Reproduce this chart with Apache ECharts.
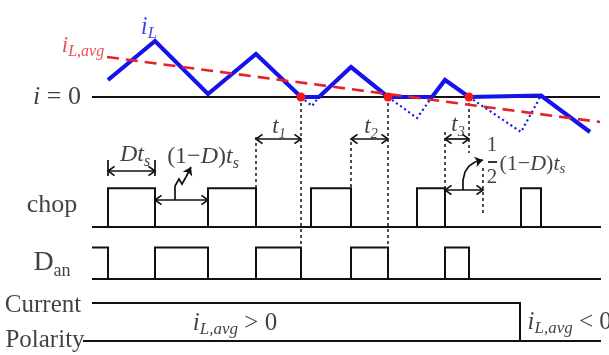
<!DOCTYPE html>
<html><head><meta charset="utf-8">
<script src="https://cdn.jsdelivr.net/npm/echarts@6/dist/echarts.min.js"></script>
<style>html,body{margin:0;padding:0;background:#fff}#c{width:609px;height:355px}</style>
</head><body><div id="c"></div>
<script>
// ---------- data (time in units, current relative to i = 0) ----------
const iL_t = [1.6, 6.3, 11.6, 16.4, 20.9, 22.7, 25.9, 29.6, 34.0, 35.3, 37.7, 44.9, 49.8];
const iL_i = [1.7, 5.6, 0.3, 4.3, 0, 0, 3.0, 0, 0, 1.7, 0, 0.15, -3.5];
const ccm_t = [[20.9, 22.0, 22.7], [29.6, 32.5, 34.0], [37.7, 42.9, 44.9]];
const ccm_i = [[0, -0.9, 0], [0, -2.1, 0], [0, -3.5, 0.15]];
const avg_t = [1.5, 50.8];
const avg_i = [4.0, -2.5];
const zeroCross_t = [20.9, 29.6, 37.7];
const chopOn = [[1.6, 6.3], [11.6, 16.4], [21.9, 25.9], [32.5, 35.3], [42.9, 44.9]];
const danOn = [[6.3, 11.6], [16.4, 20.9], [25.9, 29.6], [35.3, 37.7]];
const danFirstFall_t = 1.6;
const polaritySwitch_t = 42.8;
const tStart = 0, tEnd = 50.9;
const intervalMarks = { Dts: [1.6, 6.3], oneMinusD: [6.3, 11.6], t1: [16.4, 20.9], t2: [25.9, 29.6], t3: [35.3, 37.7], half: [35.3, 39.1] };

// ---------- layout levels ----------
const L = { i0: 25.8, chop: 12.8, chopH: 3.87, dan: 7.6, danH: 3.15, polHi: 5.2, polLo: 1.4 };
const SERIF = '"Liberation Serif","Times New Roman",serif';
const BLUE = '#1414ea', RED = '#e8202a', BLK = '#111';

// ---------- build geometry ----------
const waves = [];
waves.push([[tStart, L.i0], [avg_t[1], L.i0]]);
waves.push([[tStart, L.chop], [tEnd, L.chop]]);
chopOn.forEach(([a, b]) => waves.push([[a, L.chop], [a, L.chop + L.chopH], [b, L.chop + L.chopH], [b, L.chop]]));
waves.push([[tStart, L.dan], [tEnd, L.dan]]);
waves.push([[tStart, L.dan + L.danH], [danFirstFall_t, L.dan + L.danH], [danFirstFall_t, L.dan]]);
danOn.forEach(([a, b]) => waves.push([[a, L.dan], [a, L.dan + L.danH], [b, L.dan + L.danH], [b, L.dan]]));
waves.push([[tStart, L.polHi], [polaritySwitch_t, L.polHi], [polaritySwitch_t, L.polLo]]);
waves.push([[tStart - 0.9, L.polLo], [tEnd, L.polLo]]);

function chevron(p, q) {
  const dx = q[0] - p[0], dy = q[1] - p[1], n = Math.hypot(dx, dy);
  const ux = dx / n, uy = dy / n, len = 0.8, a = 0.62;
  const arm = s => {
    const c = Math.cos(a), sn = Math.sin(a) * s;
    const rx = ux * c - uy * sn, ry = ux * sn + uy * c;
    return [q[0] - len * rx, q[1] - len * ry];
  };
  return [arm(1), q, arm(-1)];
}
const annot = [];
function dblArrow([a, b], v) {
  const p = [a, v], q = [b, v];
  annot.push([p, q], chevron(p, q), chevron(q, p));
}
dblArrow(intervalMarks.Dts, 18.4);
dblArrow(intervalMarks.oneMinusD, 15.5);
dblArrow(intervalMarks.t1, 21.6);
dblArrow(intervalMarks.t2, 21.6);
dblArrow(intervalMarks.t3, 21.6);
dblArrow(intervalMarks.half, 16.5);
intervalMarks.Dts.forEach(t => annot.push([[t, 17.9], [t, 19.5]]));
annot.push([[39.6, 19.3], [40.5, 19.3]]);
const squiggle = [[8.3, 15.5], [8.3, 16.9], [8.7, 17.6], [9.0, 17.1], [9.4, 17.8]];
const curve = [[37.1, 16.5], [37.1, 17.5], [37.3, 18.3], [37.7, 18.9], [38.3, 19.3]];
annot.push(squiggle, curve);
const arrowHeads = [
  { coords: [squiggle[squiggle.length - 1], [9.9, 18.8]] },
  { coords: [curve[curve.length - 1], [39.1, 19.5]] }
];

const guides = [];
zeroCross_t.slice(0, 2).forEach(t => guides.push([[t, L.i0], [t, L.dan + L.danH]]));
guides.push([[zeroCross_t[2], L.i0], [zeroCross_t[2], 20.2]]);
guides.push([[intervalMarks.t1[0], 21.8], [intervalMarks.t1[0], L.chop + L.chopH]]);
guides.push([[intervalMarks.t2[0], 21.3], [intervalMarks.t2[0], L.chop + L.chopH]]);
guides.push([[intervalMarks.t3[0], 22.3], [intervalMarks.t3[0], L.chop + L.chopH]]);
guides.push([[intervalMarks.half[1], 18.7], [intervalMarks.half[1], 14.2]]);

// ---------- labels ----------
function R(color, size, sub) {
  const LH = Math.round(size * 1.2);
  const base = { fontFamily: SERIF, color, fontSize: size, lineHeight: LH };
  return {
    n: base,
    i: Object.assign({}, base, { fontStyle: 'italic' }),
    s: { fontFamily: SERIF, color, fontSize: sub, lineHeight: sub, fontStyle: 'italic', verticalAlign: 'bottom' },
    u: { fontFamily: SERIF, color, fontSize: sub, lineHeight: sub, verticalAlign: 'bottom' }
  };
}
function lab(t, v, fmt, color, size, sub, pos) {
  return { value: [t, v], label: { show: true, position: pos || 'inside', distance: 0, formatter: fmt, rich: R(color, size, sub) } };
}
const labels = [
  lab(5.7, 32.8, '{i|i}{s|L}', BLUE, 25, 17),
  lab(-0.9, 30.9, '{i|i}{s|L,avg}', RED, 23, 16),
  lab(-3.5, 25.8, '{i|i}{n| = 0}', BLK, 26, 16),
  lab(18.7, 22.8, '{i|t}{s|1}', BLK, 23, 14),
  lab(27.9, 22.8, '{i|t}{s|2}', BLK, 23, 14),
  lab(36.6, 23.0, '{i|t}{s|3}', BLK, 23, 14),
  lab(4.3, 20.0, '{i|Dt}{s|s}', BLK, 24, 16),
  lab(11.1, 19.8, '{n|(1−}{i|D}{n|)}{i|t}{s|s}', BLK, 24, 16),
  lab(-4.0, 15.0, '{n|chop}', BLK, 26, 16),
  lab(-4.0, 9.2, '{n|D}{u|an}', BLK, 28, 18),
  lab(-4.9, 5.0, '{n|Current}', BLK, 25, 16),
  lab(-4.7, 1.5, '{n|Polarity}', BLK, 25, 16),
  lab(14.3, 3.2, '{i|i}{s|L,avg}{n| > 0}', BLK, 25, 17),
  lab(43.5, 3.3, '{i|i}{s|L,avg}{n| < 0}', BLK, 25, 17, 'right'),
  lab(40.0, 21.0, '{n|1}', BLK, 21, 14),
  lab(40.0, 17.8, '{n|2}', BLK, 21, 14),
  lab(40.7, 19.1, '{n|(1−}{i|D}{n|)}{i|t}{s|s}', BLK, 22, 15, 'right')
];

const chart = echarts.init(document.getElementById('c'), null, { renderer: 'canvas' });
chart.setOption({
  animation: false,
  backgroundColor: '#fff',
  grid: { left: 0, right: 0, top: 0, bottom: 0, containLabel: false },
  xAxis: { type: 'value', min: -9.2, max: 51.7, show: false },
  yAxis: { type: 'value', min: 0, max: 35.5, show: false },
  series: [
    { type: 'lines', coordinateSystem: 'cartesian2d', polyline: true, silent: true, z: 2,
      lineStyle: { color: BLK, width: 2, opacity: 1 }, data: waves.map(c => ({ coords: c })) },
    { type: 'lines', coordinateSystem: 'cartesian2d', polyline: true, silent: true, z: 3,
      lineStyle: { color: BLK, width: 1.7, opacity: 1 }, data: annot.map(c => ({ coords: c })) },
    { type: 'lines', coordinateSystem: 'cartesian2d', silent: true, z: 3,
      symbol: ['none', 'arrow'], symbolSize: 8,
      lineStyle: { color: BLK, width: 1.7, opacity: 1 }, data: arrowHeads },
    { type: 'lines', coordinateSystem: 'cartesian2d', polyline: true, silent: true, z: 3,
      lineStyle: { color: '#222', width: 1.6, type: [3, 3], opacity: 1 }, data: guides.map(c => ({ coords: c })) },
    { type: 'lines', coordinateSystem: 'cartesian2d', polyline: true, silent: true, z: 4,
      lineStyle: { color: BLUE, width: 2.2, type: [2, 3], opacity: 1 },
      data: ccm_t.map((ts, k) => ({ coords: ts.map((t, j) => [t, L.i0 + ccm_i[k][j]]) })) },
    { type: 'line', silent: true, z: 5, symbol: 'none', showSymbol: false,
      lineStyle: { color: BLUE, width: 4.2, join: 'miter' },
      data: iL_t.map((t, k) => [t, L.i0 + iL_i[k]]) },
    { type: 'line', silent: true, z: 6, symbol: 'none', showSymbol: false,
      lineStyle: { color: RED, width: 2.6, type: [12, 7] },
      data: avg_t.map((t, k) => [t, L.i0 + avg_i[k]]) },
    { type: 'scatter', silent: true, z: 7, symbolSize: 9, itemStyle: { color: '#f01818', opacity: 1 },
      data: zeroCross_t.map(t => [t, L.i0]) },
    { type: 'scatter', silent: true, z: 8, symbolSize: 1, itemStyle: { color: 'rgba(0,0,0,0)' },
      data: labels }
  ]
});
</script></body></html>
